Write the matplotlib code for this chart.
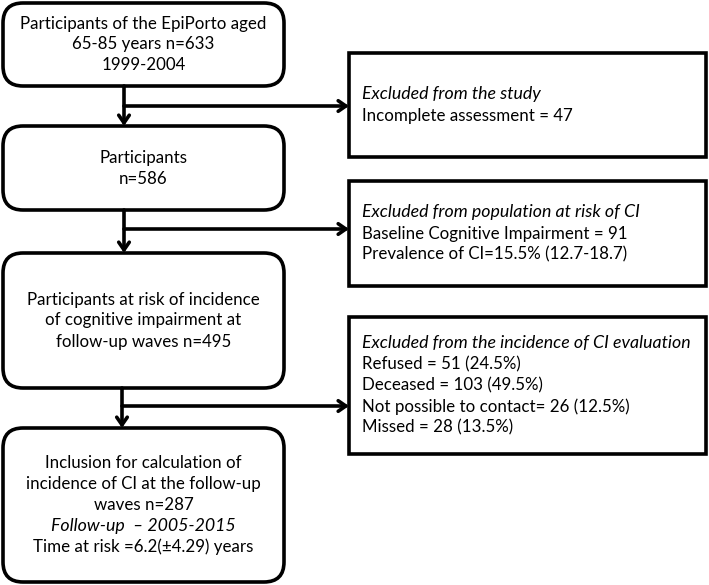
#!/usr/bin/env python3
# Flow chart of the EpiPorto participants
import matplotlib.pyplot as plt
from matplotlib.patches import FancyBboxPatch, Rectangle

plt.rcParams['font.family'] = ['Lato', 'DejaVu Sans']

# Main (left) boxes: lines of text, italic line indices
main_texts = [
    ["Participants of the EpiPorto aged", "65-85 years n=633", "1999-2004"],
    ["Participants", "n=586"],
    ["Participants at risk of incidence", "of cognitive impairment at",
     "follow-up waves n=495"],
    ["Inclusion for calculation of", "incidence of CI at the follow-up",
     "waves n=287", "Follow-up  \u2013 2005-2015", "Time at risk =6.2(\u00b14.29) years"],
]
main_italic = [[], [], [], [3]]

# Exclusion (right) boxes, first line is italic
excl_texts = [
    ["Excluded from the study", "Incomplete assessment = 47"],
    ["Excluded from population at risk of CI", "Baseline Cognitive Impairment = 91",
     "Prevalence of CI=15.5% (12.7-18.7)"],
    ["Excluded from the incidence of CI evaluation", "Refused = 51 (24.5%)",
     "Deceased = 103 (49.5%)", "Not possible to contact= 26 (12.5%)",
     "Missed = 28 (13.5%)"],
]

# geometry in pixels (top, bottom)
main_y = [(3, 86), (126, 210), (253, 388), (428, 582)]
main_x = (3, 284)
excl_y = [(53, 157), (181, 286), (317, 454)]
excl_x = (349, 706)
arrow_x = [124, 124, 122]
branch_y = [106, 229, 406]

LINE = 21
FS = 12.2
FS_IT = 12.8

fig = plt.figure(figsize=(7.09, 5.85), dpi=100)
ax = fig.add_axes([0, 0, 1, 1])
ax.set_xlim(0, 709)
ax.set_ylim(585, 0)
ax.axis('off')

for (top, bot), lines, ital in zip(main_y, main_texts, main_italic):
    x0, x1 = main_x
    r = 20
    ax.add_patch(FancyBboxPatch((x0 + r, top + r), x1 - x0 - 2 * r, bot - top - 2 * r,
                                boxstyle=f"round,pad={r},rounding_size={r}",
                                fc='white', ec='black', lw=2.6))
    cy = (top + bot) / 2
    y0 = cy - (len(lines) - 1) * LINE / 2
    for i, s in enumerate(lines):
        it = i in ital
        ax.text((x0 + x1) / 2, y0 + i * LINE, s, ha='center', va='center',
                fontsize=FS_IT if it else FS, style='italic' if it else 'normal')

for (top, bot), lines in zip(excl_y, excl_texts):
    x0, x1 = excl_x
    ax.add_patch(Rectangle((x0, top), x1 - x0, bot - top, fc='white',
                           ec='black', lw=2.6))
    cy = (top + bot) / 2
    y0 = cy - (len(lines) - 1) * LINE / 2
    for i, s in enumerate(lines):
        it = i == 0
        ax.text(x0 + 13, y0 + i * LINE, s, ha='left', va='center',
                fontsize=FS_IT if it else FS, style='italic' if it else 'normal')

arrow_kw = dict(arrowstyle='->,head_length=0.55,head_width=0.38', lw=2.6,
                color='black', shrinkA=0, shrinkB=0)
for k in range(3):
    xa = arrow_x[k]
    y_from = main_y[k][1]
    y_to = main_y[k + 1][0]
    ax.annotate('', xy=(xa, y_to), xytext=(xa, y_from), arrowprops=arrow_kw)
    ax.annotate('', xy=(excl_x[0], branch_y[k]), xytext=(xa, branch_y[k]),
                arrowprops=arrow_kw)

fig.savefig('out.png', dpi=100)
